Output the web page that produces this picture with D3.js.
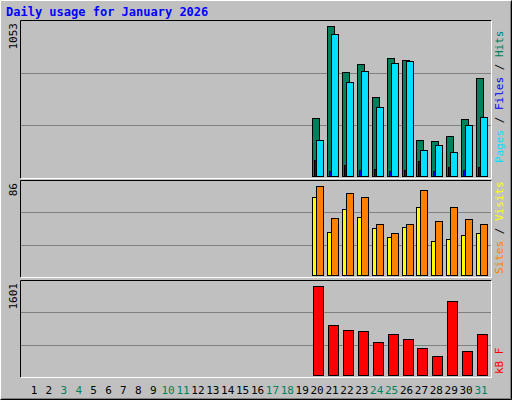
<!DOCTYPE html>
<html><head><meta charset="utf-8">
<script src="https://cdn.jsdelivr.net/npm/d3@7"></script>
<style>body{margin:0;background:#fff}text{font-family:"DejaVu Sans Mono",monospace}</style>
</head><body><div id="chart"></div>
<script>
var days = d3.range(1, 32);
var weekend = [3, 4, 10, 11, 17, 18, 24, 25, 31];
var dataDays = d3.range(20, 32);
var hits  = [410, 1053, 731, 788, 553, 831, 817, 252, 245, 281, 403, 688];
var files = [252, 996, 660, 738, 481, 796, 810, 181, 217, 167, 360, 417];
var pages = [110, 38, 76, 45, 52, 38, 45, 102, 38, 60, 45, 60];
var visits = [86, 55, 79, 75, 49, 41, 49, 82, 52, 66, 54, 49];
var sites  = [75, 42, 64, 56, 45, 37, 46, 66, 33, 35, 39, 41];
var kbytes = [1601, 906, 818, 795, 590, 742, 654, 479, 339, 1338, 427, 730];

var svg = d3.select("#chart").append("svg").attr("width", 512).attr("height", 400);
svg.append("rect").attr("width", 512).attr("height", 400).attr("fill", "#c0c0c0");
svg.append("path").attr("d", "M0.5,399.5V0.5H511.5").attr("stroke", "#fff").attr("fill", "none");
svg.append("path").attr("d", "M0.5,399.5H511.5V0.5").attr("stroke", "#000").attr("fill", "none");
svg.append("path").attr("d", "M1.5,398.5H510.5V1.5").attr("stroke", "#808080").attr("fill", "none");

svg.append("text").attr("x", 6).attr("y", 16).attr("fill", "#0000ff")
  .style("font-size", "12px").style("font-weight", "bold").text("Daily usage for January 2026");

var x = d3.scaleLinear().domain([1, 31]).range([34, 481]);

function panel(top, bottom, max, label) {
  svg.append("rect").attr("x", 20.5).attr("y", top + 0.5).attr("width", 471).attr("height", bottom - top)
    .attr("fill", "#c0c0c0").attr("stroke", "none");
  svg.append("path").attr("d", "M20.5," + (bottom + 0.5) + "V" + (top + 0.5) + "H491.5").attr("stroke", "#000").attr("fill", "none");
  svg.append("path").attr("d", "M20.5," + (bottom + 0.5) + "H491.5V" + (top + 0.5)).attr("stroke", "#fff").attr("fill", "none");
  var y = d3.scaleLinear().domain([0, max]).range([bottom - 2, top + 6]);
  [1 / 3, 2 / 3].forEach(function(f) {
    var gy = Math.round(bottom - (bottom - top) * f) + 0.5;
    svg.append("line").attr("x1", 21).attr("x2", 491).attr("y1", gy).attr("y2", gy).attr("stroke", "#808080");
  });
  svg.append("text").attr("transform", "translate(17," + (top + 3) + ") rotate(-90)")
    .attr("text-anchor", "end").style("font-size", "11px").attr("fill", "#000").text(label);
  return y;
}

function bars(y, vals, dx, w, color) {
  svg.append("g").selectAll("rect").data(vals).enter().append("rect")
    .attr("x", function(d, i) { return Math.round(x(dataDays[i])) + dx + 0.5; })
    .attr("y", function(d) { return Math.round(y(d)) + 0.5; })
    .attr("width", w).attr("height", function(d) { return Math.round(y(0) - y(d)); })
    .attr("fill", color).attr("stroke", "#000");
}

var y1 = panel(20, 178, 1053, "1053");
bars(y1, hits, -5, 7, "#00805c");
bars(y1, files, -1, 7, "#00e0ff");
bars(y1, pages, -3, 2, "#0000ff");

var y2 = panel(180, 277, 86, "86");
bars(y2, sites, -5, 7, "#ffff00");
bars(y2, visits, -1, 7, "#ff8000");

var y3 = panel(280, 377, 1601, "1601");
bars(y3, kbytes, -4, 10, "#ff0000");

function sideLabel(yb, parts) {
  var t = svg.append("text").attr("transform", "translate(503," + yb + ") rotate(-90)")
    .style("font-size", "11px");
  parts.forEach(function(p) { t.append("tspan").attr("fill", p[1]).text(p[0]); });
}
sideLabel(163, [["Pages", "#00e0ff"], [" / ", "#000"], ["Files", "#0000ff"], [" / ", "#000"], ["Hits", "#00805c"]]);
sideLabel(274, [["Sites", "#ff8000"], [" / ", "#000"], ["Visits", "#ffff00"]]);
sideLabel(374, [["kB F", "#ff0000"]]);

svg.append("g").selectAll("text").data(days).enter().append("text")
  .attr("x", function(d) { return x(d); }).attr("y", 394).attr("text-anchor", "middle")
  .style("font-size", "11px")
  .attr("fill", function(d) { return weekend.indexOf(d) >= 0 ? "#00805c" : "#000"; })
  .text(function(d) { return d; });
</script></body></html>
